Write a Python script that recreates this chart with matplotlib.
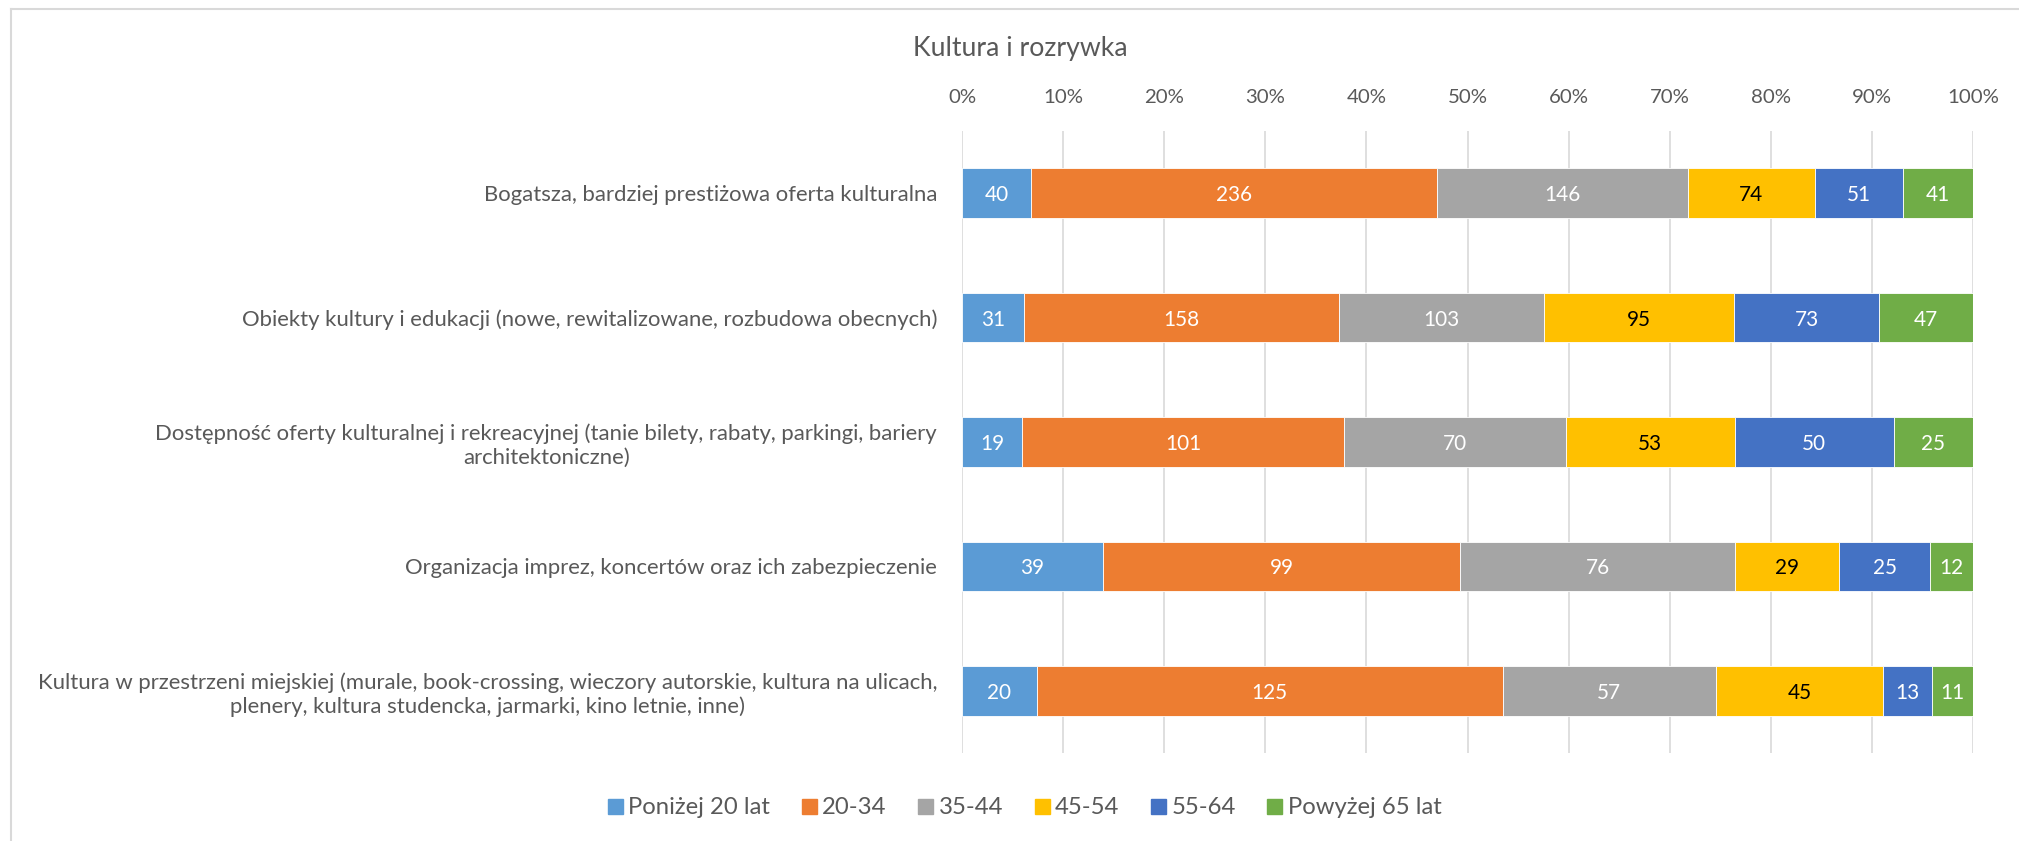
import matplotlib
matplotlib.use("Agg")
import matplotlib.pyplot as plt
import numpy as np
from matplotlib.lines import Line2D
from matplotlib.font_manager import FontProperties

plt.rcParams['font.family'] = ['Lato', 'DejaVu Sans']

title = "Kultura i rozrywka"
categories = [
    "Bogatsza, bardziej prestiżowa oferta kulturalna",
    "Obiekty kultury i edukacji (nowe, rewitalizowane, rozbudowa obecnych)",
    "Dostępność oferty kulturalnej i rekreacyjnej (tanie bilety, rabaty, parkingi, bariery\narchitektoniczne)",
    "Organizacja imprez, koncertów oraz ich zabezpieczenie",
    "Kultura w przestrzeni miejskiej (murale, book-crossing, wieczory autorskie, kultura na ulicach,\nplenery, kultura studencka, jarmarki, kino letnie, inne)",
]
series_names = ["Poniżej 20 lat", "20-34", "35-44", "45-54", "55-64", "Powyżej 65 lat"]
s_ponizej20 = [40, 31, 19, 39, 20]
s_20_34 = [236, 158, 101, 99, 125]
s_35_44 = [146, 103, 70, 76, 57]
s_45_54 = [74, 95, 53, 29, 45]
s_55_64 = [51, 73, 50, 25, 13]
s_powyzej65 = [41, 47, 25, 12, 11]
xtick_labels = ["0%", "10%", "20%", "30%", "40%", "50%", "60%", "70%", "80%", "90%", "100%"]

colors = ["#5B9BD5", "#ED7D31", "#A5A5A5", "#FFC000", "#4472C4", "#70AD47"]
label_colors = ["white", "white", "white", "black", "white", "white"]
txt_gray = "#595959"

series = [s_ponizej20, s_20_34, s_35_44, s_45_54, s_55_64, s_powyzej65]
data = np.array(series, dtype=float)
totals = data.sum(axis=0)
pct = data / totals

W, H = 2019, 841
DPI = 100
fig = plt.figure(figsize=(W / DPI, H / DPI), dpi=DPI)
renderer = fig.canvas.get_renderer()


def fit_size(text, target_px):
    t = fig.text(0, 0, text, fontsize=10)
    w = t.get_window_extent(renderer).width
    t.remove()
    return 10.0 * target_px / w


def descent_px(text, size):
    prop = FontProperties(family=plt.rcParams['font.family'], size=size)
    _, _, d = renderer.get_text_width_height_descent(text, prop, ismath=False)
    return d


fs_cat = fit_size(categories[0], 455)
fs_tick = fit_size("10%", 40)
fs_title = fit_size(title, 214)
fs_val = fs_tick * 1.02
fs_leg = fit_size("Powyżej 65 lat", 154)

ax_top, ax_bot, ax_left, ax_right = 130.75, 753.25, 962, 1973
ax = fig.add_axes([ax_left / W, 1 - ax_bot / H, (ax_right - ax_left) / W, (ax_bot - ax_top) / H])

n = len(categories)
y = np.arange(n)
left = np.zeros(n)
for i, name in enumerate(series_names):
    ax.barh(y, pct[i], left=left, height=0.4, color=colors[i], edgecolor='white',
            linewidth=0.6, label=name, zorder=3)
    for j in range(n):
        ax.text(left[j] + pct[i][j] / 2, y[j], f"{int(data[i][j])}", ha='center',
                va='center_baseline', color=label_colors[i], fontsize=fs_val, zorder=4)
    left += pct[i]

ax.set_xlim(0, 1)
ax.set_ylim(n - 0.5, -0.5)
ax.set_xticks(np.linspace(0, 1, 11))
ax.set_xticklabels(xtick_labels)
ax.xaxis.tick_top()
tick_base = 106
pad_px = ax_top - (tick_base + descent_px("10%", fs_tick))
ax.tick_params(axis='x', length=0, pad=pad_px * 72 / DPI, labelsize=fs_tick, labelcolor=txt_gray)
ax.set_yticks(y)
ax.set_yticklabels(categories, multialignment='center')
ax.tick_params(axis='y', length=0, pad=25 * 72 / DPI, labelsize=fs_cat, labelcolor=txt_gray)
ax.grid(axis='x', color='#D9D9D9', linewidth=1.2, zorder=0)
for sp in ax.spines.values():
    sp.set_visible(False)

fig.text(1020 / W, 1 - 56 / H, title, ha='center', va='baseline', fontsize=fs_title, color=txt_gray)

fs_leg_px = fs_leg * DPI / 72
handles = [Line2D([0], [0], marker='s', linestyle='none', markersize=15 * 72 / DPI,
                  markerfacecolor=c, markeredgecolor=c) for c in colors]
fig.legend(handles, series_names, loc='center', bbox_to_anchor=(1024.5 / W, 1 - 808 / H),
           ncol=6, frameon=False, fontsize=fs_leg, labelcolor=txt_gray,
           handletextpad=6 / fs_leg_px, columnspacing=31 / fs_leg_px,
           handlelength=15 / fs_leg_px, borderpad=0, borderaxespad=0)

# chart border (top and left visible)
fig.add_artist(Line2D([11 / W, 11 / W], [0, 1 - 9 / H], transform=fig.transFigure,
                      color='#D9D9D9', linewidth=1.5))
fig.add_artist(Line2D([11 / W, 1], [1 - 9 / H, 1 - 9 / H], transform=fig.transFigure,
                      color='#D9D9D9', linewidth=1.5))

fig.savefig("out.png", dpi=DPI, facecolor='white')
